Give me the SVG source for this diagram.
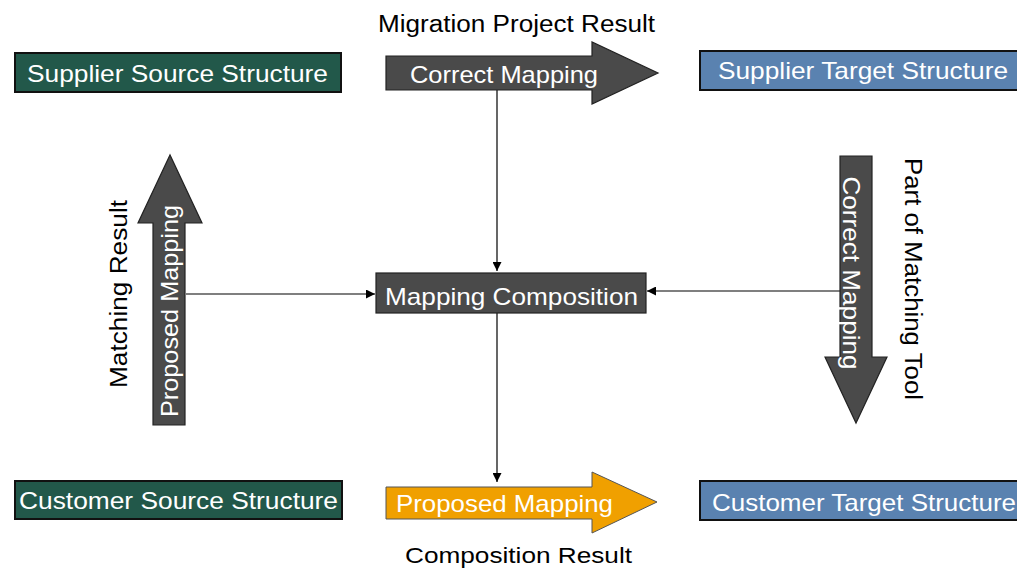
<svg xmlns="http://www.w3.org/2000/svg" width="1017" height="569" viewBox="0 0 1017 569">
<defs>
<style>
.t{font-family:"Liberation Sans",Arial,sans-serif;}
.w{fill:#ffffff;font-size:24px;}
.b{fill:#000000;font-size:23px;}
.green{fill:#22584a;stroke:#111;stroke-width:2;}
.blue{fill:#5a82b0;stroke:#111;stroke-width:2;}
.dark{fill:#4a4a4a;stroke:#222;stroke-width:1.2;}
.orange{fill:#f0a000;stroke:#555;stroke-width:1;}
.conn{stroke:#000;stroke-width:1.2;fill:none;marker-end:url(#ah);}
</style>
<marker id="ah" viewBox="0 0 10 10" refX="10" refY="5" markerWidth="9" markerHeight="9" markerUnits="userSpaceOnUse" orient="auto">
<path d="M0,0 L10,5 L0,10 z" fill="#000"/>
</marker>
</defs>
<rect width="1017" height="569" fill="#ffffff"/>

<g id="connectors">
<line class="conn" x1="497" y1="90" x2="497" y2="271"/>
<line class="conn" x1="186" y1="294" x2="375" y2="294"/>
<line class="conn" x1="840" y1="291" x2="647" y2="291"/>
<line class="conn" x1="497" y1="313" x2="497" y2="482"/>
</g>

<g id="supplier-source">
<rect class="green" x="15" y="53" width="326" height="39"/>
<text class="t w" x="27" y="82" textLength="301" lengthAdjust="spacingAndGlyphs">Supplier Source Structure</text>
</g>

<g id="supplier-target">
<rect class="blue" x="700" y="51" width="320" height="39"/>
<text class="t w" x="718" y="79" textLength="290" lengthAdjust="spacingAndGlyphs">Supplier Target Structure</text>
</g>

<g id="customer-source">
<rect class="green" x="15" y="481" width="327" height="38"/>
<text class="t w" x="19" y="509" textLength="319" lengthAdjust="spacingAndGlyphs">Customer Source Structure</text>
</g>

<g id="customer-target">
<rect class="blue" x="700" y="481" width="320" height="39"/>
<text class="t w" x="712" y="511" textLength="304" lengthAdjust="spacingAndGlyphs">Customer Target Structure</text>
</g>

<g id="migration-result">
<text class="t b" x="378" y="32" textLength="277" lengthAdjust="spacingAndGlyphs">Migration Project Result</text>
<path class="dark" d="M386,56 L592,56 L592,42 L658,73 L592,104 L592,90 L386,90 z"/>
<text class="t w" x="410" y="83" textLength="188" lengthAdjust="spacingAndGlyphs">Correct Mapping</text>
</g>

<g id="mapping-composition">
<rect class="dark" x="376" y="273" width="270" height="40"/>
<text class="t w" x="385" y="305" textLength="253" lengthAdjust="spacingAndGlyphs">Mapping Composition</text>
</g>

<g id="matching-result">
<path class="dark" d="M153,425 L153,223 L138,223 L170,155 L202,223 L185,223 L185,425 z"/>
<text class="t w" transform="translate(178,311) rotate(-90)" text-anchor="middle" textLength="212" lengthAdjust="spacingAndGlyphs">Proposed Mapping</text>
<text class="t b" transform="translate(127,294) rotate(-90)" text-anchor="middle" textLength="188" lengthAdjust="spacingAndGlyphs">Matching Result</text>
</g>

<g id="matching-tool">
<path class="dark" d="M840,156 L872,156 L872,357 L887,357 L856,423 L825,357 L840,357 z"/>
<text class="t w" transform="translate(843,273) rotate(90)" text-anchor="middle" textLength="193" lengthAdjust="spacingAndGlyphs">Correct Mapping</text>
<text class="t b" transform="translate(905,279) rotate(90)" text-anchor="middle" textLength="242" lengthAdjust="spacingAndGlyphs">Part of Matching Tool</text>
</g>

<g id="composition-result">
<path class="orange" d="M386,487 L592,487 L592,472 L657,502 L592,533 L592,519 L386,519 z"/>
<text class="t w" x="396" y="512" textLength="217" lengthAdjust="spacingAndGlyphs">Proposed Mapping</text>
<text class="t b" x="405" y="563" style="font-size:22px" textLength="227" lengthAdjust="spacingAndGlyphs">Composition Result</text>
</g>
</svg>
